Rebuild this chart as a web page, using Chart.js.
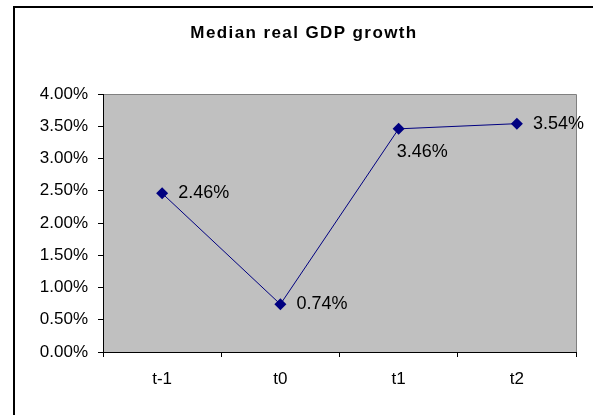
<!DOCTYPE html>
<html>
<head>
<meta charset="utf-8">
<script src="https://cdn.jsdelivr.net/npm/chart.js@4.4.0/dist/chart.umd.min.js"></script>
<style>
    html, body { margin: 0; padding: 0; background: #fff; overflow: hidden; }
    #frame { position: absolute; left: 13px; top: 6px; width: 700px; height: 500px; border-left: 2px solid #000; border-top: 2px solid #000; }
    #wrap { position: absolute; left: 0; top: 0; width: 593px; height: 415px; }
</style>
</head>
<body>
<div id="frame"></div>
<div id="wrap"><canvas id="chart" width="593" height="415"></canvas></div>
<script>
// Median real GDP growth - line chart

const categories = ['t-1', 't0', 't1', 't2'];
const growthValues = [2.46, 0.74, 3.46, 3.54];
const labelPlacement = ['right', 'right', 'below', 'right'];
const yTicks = [0, 0.5, 1, 1.5, 2, 2.5, 3, 3.5, 4];

const FONT = "'Liberation Sans', Arial, sans-serif";

// gray plot area with thin gray frame on top/right
const plotBackground = {
    id: 'plotBackground',
    beforeDraw(chart) {
        const { ctx, chartArea: a } = chart;
        ctx.save();
        ctx.fillStyle = '#C0C0C0';
        ctx.fillRect(a.left, a.top, a.right - a.left, a.bottom - a.top);
        ctx.strokeStyle = '#808080';
        ctx.lineWidth = 1;
        ctx.beginPath();
        ctx.moveTo(a.left, a.top + 0.5);
        ctx.lineTo(a.right + 0.5, a.top + 0.5);
        ctx.lineTo(a.right + 0.5, a.bottom);
        ctx.stroke();
        ctx.restore();
    }
};

// title drawn with letter spacing like the Excel original
const spacedTitle = {
    id: 'spacedTitle',
    afterDraw(chart) {
        const { ctx } = chart;
        ctx.save();
        ctx.font = "bold 17px " + FONT;
        ctx.letterSpacing = '1.4px';
        ctx.fillStyle = '#000';
        ctx.textAlign = 'center';
        ctx.textBaseline = 'middle';
        ctx.fillText('Median real GDP growth', 304, 33);
        ctx.restore();
    }
};

// value labels next to each point
const pointLabels = {
    id: 'pointLabels',
    afterDatasetsDraw(chart) {
        const { ctx } = chart;
        const meta = chart.getDatasetMeta(0);
        ctx.save();
        ctx.font = "18px " + FONT;
        ctx.fillStyle = '#000';
        ctx.textBaseline = 'middle';
        ctx.textAlign = 'left';
        meta.data.forEach((pt, i) => {
            const text = growthValues[i].toFixed(2) + '%';
            if (labelPlacement[i] === 'below') {
                ctx.fillText(text, pt.x - 2, pt.y + 23);
            } else {
                ctx.fillText(text, pt.x + 16, pt.y);
            }
        });
        ctx.restore();
    }
};

const ctx = document.getElementById('chart').getContext('2d');

new Chart(ctx, {
    type: 'line',
    data: {
        labels: categories,
        datasets: [{
            label: 'Median real GDP growth',
            data: growthValues,
            borderColor: '#000080',
            borderWidth: 1,
            backgroundColor: '#000080',
            pointStyle: 'rectRot',
            pointRadius: 6,
            pointBorderWidth: 0,
            pointBackgroundColor: '#000080',
            tension: 0,
            fill: false
        }]
    },
    options: {
        responsive: false,
        animation: false,
        layout: {
            padding: { left: 0, right: 17, top: 94, bottom: 0 }
        },
        plugins: {
            legend: { display: false },
            title: { display: false },
            tooltip: { enabled: false }
        },
        scales: {
            x: {
                offset: true,
                grid: {
                    offset: true,
                    drawOnChartArea: false,
                    color: '#000',
                    tickLength: 5
                },
                border: { color: '#000', width: 1 },
                ticks: {
                    color: '#000',
                    padding: 12,
                    font: { size: 17, family: FONT }
                },
                afterFit(scale) { scale.height = 63; }
            },
            y: {
                min: 0,
                max: 4,
                afterBuildTicks(scale) {
                    scale.ticks = yTicks.map(v => ({ value: v }));
                },
                grid: {
                    drawOnChartArea: false,
                    color: '#000',
                    tickLength: 5
                },
                border: { color: '#000', width: 1 },
                ticks: {
                    color: '#000',
                    padding: 10,
                    font: { size: 17, family: FONT },
                    callback: v => v.toFixed(2) + '%'
                },
                afterFit(scale) { scale.width = 103; }
            }
        }
    },
    plugins: [plotBackground, spacedTitle, pointLabels]
});
</script>
</body>
</html>
